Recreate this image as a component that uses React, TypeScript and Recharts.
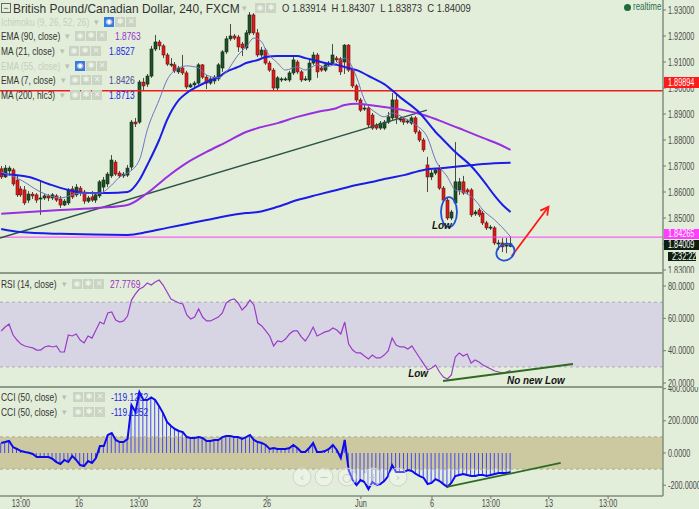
import React from "react";
import {
  Bar,
  ComposedChart,
  Line,
  ReferenceArea,
  ReferenceDot,
  ReferenceLine,
  XAxis,
  YAxis,
} from "recharts";

const FONT = '"Liberation Sans", Arial, sans-serif';
const BG = "#e2eed9";
const AXIS = "#7f8f7c";

// GBP/CAD 4h candles
const opens = [
  1.8689, 1.8658, 1.8681, 1.8685, 1.8646, 1.8612, 1.8608, 1.8569, 1.8592, 1.8589,
  1.8573, 1.8577, 1.8585, 1.8577, 1.8585, 1.8573, 1.855, 1.8558, 1.8612, 1.8589,
  1.8615, 1.86, 1.8565, 1.8581, 1.8569, 1.8585, 1.8619, 1.8631, 1.8662, 1.8715,
  1.8673, 1.8662, 1.8665, 1.8696, 1.8869, 1.8869, 1.9023, 1.9015, 1.9046, 1.915,
  1.9177, 1.9162, 1.9127, 1.9089, 1.9089, 1.9062, 1.9077, 1.9058, 1.9004, 1.9012,
  1.9019, 1.9089, 1.9042, 1.9019, 1.9027, 1.9035, 1.9077, 1.9139, 1.9189, 1.92,
  1.9196, 1.9169, 1.9154, 1.9212, 1.9281, 1.9212, 1.9127, 1.9146, 1.9096, 1.9069,
  1.9, 1.9031, 1.9031, 1.9031, 1.9058, 1.91, 1.9062, 1.9031, 1.9031, 1.9096,
  1.9127, 1.9077, 1.9069, 1.9089, 1.9096, 1.9115, 1.9112, 1.91, 1.9165, 1.9069,
  1.9008, 1.8954, 1.8919, 1.8923, 1.8896, 1.8858, 1.8846, 1.8846, 1.8869, 1.8885,
  1.8954, 1.8877, 1.8881, 1.8869, 1.8865, 1.8885, 1.8831, 1.88, 1.8704, 1.8658,
  1.8673, 1.8689, 1.8615, 1.8569, 1.85, 1.8558, 1.8608, 1.8639, 1.8608, 1.8608,
  1.8516, 1.8531, 1.8519, 1.8481, 1.8462, 1.8462, 1.84, 1.8404, 1.8392, 1.83914,
];
const highs = [
  1.87, 1.8704, 1.87, 1.8692, 1.8662, 1.8623, 1.8623, 1.8604, 1.86, 1.8596,
  1.8642, 1.8592, 1.8592, 1.8596, 1.8592, 1.8585, 1.8573, 1.8615, 1.8623, 1.8631,
  1.8623, 1.8608, 1.8585, 1.8604, 1.8596, 1.8646, 1.8658, 1.8677, 1.8742, 1.8723,
  1.8681, 1.8677, 1.8704, 1.8877, 1.8885, 1.9031, 1.9039, 1.9054, 1.9162, 1.9204,
  1.9185, 1.9169, 1.9135, 1.9115, 1.91, 1.9085, 1.9127, 1.9066, 1.9019, 1.9027,
  1.9096, 1.9092, 1.905, 1.9042, 1.905, 1.9096, 1.9146, 1.92, 1.9246, 1.9208,
  1.9204, 1.9177, 1.9223, 1.9292, 1.9288, 1.9227, 1.9158, 1.9154, 1.9104, 1.9077,
  1.9046, 1.9042, 1.9042, 1.9066, 1.9127, 1.9108, 1.9069, 1.9046, 1.9108, 1.9139,
  1.9135, 1.9085, 1.9096, 1.9104, 1.9169, 1.9123, 1.9119, 1.9169, 1.9169, 1.9077,
  1.9015, 1.8962, 1.8939, 1.8931, 1.8904, 1.8865, 1.8873, 1.8877, 1.8908, 1.8981,
  1.8973, 1.8889, 1.8889, 1.8881, 1.8892, 1.8892, 1.8839, 1.8808, 1.8735, 1.8685,
  1.8692, 1.8704, 1.8623, 1.8577, 1.8531, 1.8792, 1.8654, 1.8662, 1.8615, 1.8615,
  1.8531, 1.8539, 1.8527, 1.8489, 1.8473, 1.8469, 1.8416, 1.8423, 1.8423, 1.84307,
];
const lows = [
  1.865, 1.8654, 1.8662, 1.8623, 1.8581, 1.8581, 1.855, 1.8558, 1.8573, 1.8558,
  1.8512, 1.8569, 1.8565, 1.8569, 1.8562, 1.8539, 1.8546, 1.855, 1.8573, 1.8581,
  1.8585, 1.8554, 1.8558, 1.8562, 1.8558, 1.8577, 1.86, 1.8619, 1.8654, 1.8662,
  1.8654, 1.8654, 1.8658, 1.8685, 1.885, 1.8862, 1.8992, 1.9004, 1.9039, 1.9142,
  1.9146, 1.9115, 1.9085, 1.9081, 1.9058, 1.9054, 1.905, 1.8996, 1.9, 1.9004,
  1.9012, 1.9035, 1.8996, 1.9012, 1.9015, 1.9027, 1.9062, 1.9131, 1.9181, 1.9185,
  1.9139, 1.9123, 1.9146, 1.9204, 1.9204, 1.9119, 1.9119, 1.9089, 1.9062, 1.8992,
  1.8992, 1.9023, 1.9027, 1.9023, 1.905, 1.9054, 1.9023, 1.9027, 1.9023, 1.9089,
  1.9039, 1.9062, 1.9062, 1.9081, 1.9089, 1.91, 1.905, 1.9054, 1.9062, 1.9,
  1.8946, 1.8908, 1.8912, 1.885, 1.8839, 1.8839, 1.8839, 1.8839, 1.8862, 1.8877,
  1.8862, 1.8869, 1.8858, 1.8862, 1.8858, 1.8823, 1.8792, 1.8754, 1.86, 1.8646,
  1.8665, 1.8608, 1.8562, 1.8492, 1.8492, 1.855, 1.8589, 1.8589, 1.8592, 1.8504,
  1.8508, 1.8504, 1.8473, 1.8454, 1.8454, 1.8396, 1.8377, 1.8369, 1.8365, 1.83873,
];
const closes = [
  1.8658, 1.8692, 1.8692, 1.8631, 1.8589, 1.8589, 1.8558, 1.8592, 1.8585, 1.8569,
  1.8577, 1.8585, 1.8577, 1.8589, 1.8569, 1.855, 1.8565, 1.8608, 1.8581, 1.8619,
  1.8596, 1.8565, 1.8577, 1.8569, 1.8589, 1.8639, 1.8646, 1.8669, 1.8723, 1.8669,
  1.8662, 1.8669, 1.8692, 1.8869, 1.8862, 1.9023, 1.9008, 1.9046, 1.915, 1.9177,
  1.9162, 1.9127, 1.9092, 1.9092, 1.9066, 1.9077, 1.9058, 1.9004, 1.9012, 1.9019,
  1.9089, 1.9042, 1.9019, 1.9035, 1.9042, 1.9089, 1.9139, 1.9189, 1.92, 1.9192,
  1.9158, 1.9154, 1.9212, 1.9281, 1.9212, 1.9127, 1.9146, 1.9096, 1.9069, 1.9,
  1.9039, 1.9035, 1.9035, 1.9058, 1.9108, 1.9062, 1.9031, 1.9035, 1.9096, 1.9127,
  1.9062, 1.9069, 1.9089, 1.9096, 1.9127, 1.9108, 1.9062, 1.9165, 1.9069, 1.9008,
  1.8954, 1.8915, 1.8923, 1.8858, 1.8846, 1.8846, 1.8865, 1.8869, 1.8889, 1.8954,
  1.8885, 1.8881, 1.8869, 1.8873, 1.8885, 1.8831, 1.88, 1.8762, 1.8658, 1.8673,
  1.8685, 1.8615, 1.8569, 1.85, 1.8523, 1.8639, 1.8639, 1.8596, 1.86, 1.8512,
  1.8523, 1.8512, 1.8481, 1.8462, 1.8465, 1.8404, 1.8404, 1.8389, 1.8396, 1.84009,
];

// moving averages, sampled where they could be read: [candle index, price]
const ma21Pts = [
  [0, 1.8669], [7, 1.8658], [12, 1.8631], [17, 1.8608], [22, 1.8596], [27, 1.8596],
  [32, 1.86], [35, 1.8646], [37, 1.8704], [40, 1.88], [42, 1.8877], [45, 1.8954],
  [47, 1.8981], [50, 1.9008], [52, 1.9023], [55, 1.9042], [57, 1.9062], [60, 1.9081],
  [62, 1.9096], [65, 1.9108], [67, 1.9119], [70, 1.9123], [75, 1.9123], [77, 1.9115],
  [80, 1.9104], [82, 1.9096], [85, 1.9089], [87, 1.9081], [90, 1.9069], [94, 1.9039],
  [97, 1.9015], [101, 1.8965], [106, 1.8904], [110, 1.8831], [112, 1.88], [115, 1.8754],
  [119, 1.87], [122, 1.8646], [125, 1.8585], [127, 1.855], [129, 1.8523],
];
const ma200Pts = [
  [0, 1.8458], [5, 1.8446], [15, 1.8439], [32, 1.8435], [37, 1.8446], [42, 1.8462],
  [47, 1.8477], [52, 1.8492], [57, 1.8508], [62, 1.8519], [65, 1.8523], [70, 1.8543],
  [75, 1.8569], [80, 1.8589], [85, 1.8608], [90, 1.8627], [95, 1.8642], [97, 1.865],
  [102, 1.8665], [107, 1.8685], [112, 1.8692], [117, 1.87], [122, 1.8708], [129, 1.8713],
];
const ema90Pts = [
  [0, 1.8516], [15, 1.8531], [25, 1.8539], [32, 1.855], [37, 1.8596], [42, 1.8658],
  [47, 1.8712], [52, 1.8754], [57, 1.8792], [62, 1.8831], [65, 1.8846], [70, 1.8865],
  [75, 1.8889], [80, 1.8908], [85, 1.8923], [87, 1.8935], [90, 1.8939], [93, 1.8935],
  [97, 1.8927], [102, 1.8915], [107, 1.8896], [112, 1.8869], [117, 1.8839], [122, 1.8808],
  [127, 1.8777], [129, 1.8762],
];
const ema7Pts = [
  [0, 1.8677], [5, 1.8646], [10, 1.86], [15, 1.8577], [20, 1.8596], [25, 1.8596],
  [28, 1.8627], [30, 1.8658], [32, 1.8673], [35, 1.8723], [37, 1.8839], [40, 1.8954],
  [42, 1.9031], [45, 1.9077], [47, 1.9085], [50, 1.9077], [52, 1.905], [55, 1.9039],
  [57, 1.9062], [60, 1.9127], [62, 1.9158], [64, 1.9192], [66, 1.9177], [67, 1.9146],
  [70, 1.9096], [72, 1.9069], [75, 1.9081], [77, 1.9069], [80, 1.9089], [82, 1.9081],
  [85, 1.9096], [87, 1.9115], [90, 1.9042], [92, 1.8954], [95, 1.8904], [97, 1.8889],
  [99, 1.8904], [102, 1.8885], [105, 1.8858], [108, 1.8808], [110, 1.8723], [113, 1.8658],
  [115, 1.8608], [117, 1.86], [120, 1.8569], [122, 1.8531], [125, 1.8492], [127, 1.8462],
  [129, 1.8428],
];

const rsi = [
  52.2, 54.6, 56.5, 49.7, 46.6, 44.1, 42.9, 42.3, 41.7, 40.4,
  40.4, 42.3, 42.9, 42.3, 42.9, 39.2, 39.2, 49.7, 49.1, 50.3,
  46.6, 44.8, 49.1, 47.8, 52.8, 57.7, 56.5, 63.3, 63.9, 59.0,
  57.7, 58.4, 61.4, 71.3, 75.1, 78.1, 79.4, 81.9, 80.6, 82.5,
  83.7, 80.6, 76.3, 72.0, 70.7, 69.5, 68.9, 62.1, 59.6, 60.8,
  65.8, 60.8, 58.4, 58.4, 59.6, 60.8, 63.3, 69.5, 71.3, 72.0,
  69.5, 65.2, 67.6, 71.3, 68.3, 57.1, 55.3, 52.2, 49.1, 42.9,
  46.0, 45.4, 47.2, 50.3, 52.2, 52.2, 48.5, 46.0, 49.7, 54.6,
  49.1, 50.3, 51.6, 52.2, 54.0, 52.8, 50.3, 57.7, 44.1, 40.4,
  38.6, 38.6, 36.7, 34.9, 37.3, 35.5, 35.5, 37.3, 39.8, 47.8,
  43.5, 42.3, 42.3, 41.0, 42.9, 39.2, 35.5, 31.8, 28.1, 29.3,
  31.1, 26.8, 23.7, 22.5, 25.0, 36.1, 38.6, 36.7, 37.9, 32.4,
  34.2, 33.0, 31.1, 29.9, 28.7, 27.4, 26.8, 26.2, 26.8, 27.78,
];
const cci = [
  62, 68, 75, 37, 25, 12, 6, 2, -6, -25,
  -25, -25, -25, -37, -56, -68, -43, -56, -19, -43,
  -75, -81, -50, -62, -31, 43, 43, 112, 124, 81,
  68, 68, 87, 298, 255, 379, 329, 329, 345, 330,
  290, 248, 193, 168, 149, 137, 130, 99, 93, 93,
  99, 93, 75, 75, 81, 81, 99, 106, 106, 99,
  99, 87, 99, 112, 81, 68, 62, 50, 25, 31,
  25, 25, 25, 31, 50, 31, 6, 6, 31, 62,
  6, 6, 12, 25, 50, 19, -31, 81, -106, -168,
  -199, -168, -180, -224, -180, -199, -193, -174, -143, -75,
  -118, -118, -118, -106, -112, -130, -143, -155, -193, -186,
  -162, -174, -193, -211, -186, -143, -137, -130, -137, -143,
  -143, -137, -137, -143, -137, -130, -124, -124, -124, -119.13,
];

const xTicks = [5, 19.7, 34.9, 49.6, 67.3, 91.1, 109.1, 124, 138.7, 153.7];
const xLabels = ["13:00", "16", "13:00", "23", "26", "Jun", "6", "13:00", "13", "13:00"];
const priceTicks = [1.83, 1.84, 1.85, 1.86, 1.87, 1.88, 1.89, 1.9, 1.91, 1.92, 1.93];
const rsiTicks = [20, 40, 60, 80];
const cciTicks = [-200, 0, 200, 400];

const SLOTS = 168;
const X_DOMAIN: [number, number] = [-0.3, 167.6];

const rows: any[] = Array.from({ length: SLOTS }, (_, i) => {
  if (i >= closes.length) return { i };
  return {
    i,
    open: opens[i],
    high: highs[i],
    low: lows[i],
    close: closes[i],
    range: [lows[i], highs[i]],
    rsi: rsi[i],
    cci: cci[i],
  };
});
const put = (pts: number[][], key: string) => pts.forEach(([i, v]) => (rows[i][key] = v));
put(ma21Pts, "ma21");
put(ma200Pts, "ma200");
put(ema90Pts, "ema90");
put(ema7Pts, "ema7");

// the screenshot is squeezed sideways, so texts are narrowed to match
const SQUEEZE = 0.73;

const rightTick = (digits: number) => (p: any) => (
  <text
    transform={`translate(${p.x},${p.y}) scale(${SQUEEZE},1)`}
    dy="0.35em"
    fontSize={10}
    fill="#4a4a4a"
    fontFamily={FONT}
  >
    {Number(p.payload.value).toFixed(digits)}
  </text>
);

const bottomTick = (p: any) => (
  <text
    transform={`translate(${p.x},${p.y}) scale(${SQUEEZE},1)`}
    dy="0.71em"
    textAnchor="middle"
    fontSize={10}
    fill="#4a4a4a"
    fontFamily={FONT}
  >
    {xLabels[xTicks.indexOf(p.payload.value)] ?? ""}
  </text>
);

function Candle(props: any) {
  const { x, y, width, height, payload } = props;
  if (!payload || payload.open == null) return null;
  const top = Math.min(y, y + height);
  const bottom = Math.max(y, y + height);
  const span = payload.high - payload.low;
  const py = (p: number) => top + ((payload.high - p) / span) * (bottom - top);
  const cx = Math.round(x + width / 2) + 0.5;
  const up = payload.close >= payload.open;
  const bTop = py(Math.max(payload.open, payload.close));
  const bBot = py(Math.min(payload.open, payload.close));
  return (
    <g>
      <line x1={cx} x2={cx} y1={top} y2={bottom} stroke="#4a4a4a" strokeWidth={1} />
      <rect
        x={cx - 1.5}
        y={bTop}
        width={3}
        height={Math.max(1, bBot - bTop)}
        fill={up ? "#1e5128" : "#d61c1c"}
        stroke={up ? "#0d2a12" : "#7a1010"}
        strokeWidth={0.6}
      />
    </g>
  );
}

function Arrow(p: any) {
  const { x1, y1, x2, y2 } = p;
  if (x1 == null) return null;
  const a = Math.atan2(y2 - y1, x2 - x1);
  const L = 9;
  const h1 = `${x2 - L * Math.cos(a - 0.5)},${y2 - L * Math.sin(a - 0.5)}`;
  const h2 = `${x2 - L * Math.cos(a + 0.5)},${y2 - L * Math.sin(a + 0.5)}`;
  return (
    <g stroke="#ff1a1a" strokeWidth={1.8} fill="none">
      <line x1={x1} y1={y1} x2={x2} y2={y2} />
      <polyline points={`${h1} ${x2},${y2} ${h2}`} />
    </g>
  );
}

const noteText = (label: string) => (p: any) => (
  <text
    transform={`translate(${p.cx},${p.cy}) scale(0.9,1)`}
    textAnchor="middle"
    dominantBaseline="central"
    fontFamily={FONT}
    fontSize={11}
    fontWeight="bold"
    fontStyle="italic"
    fill="#151515"
  >
    {label}
  </text>
);

const ellipse = (rx: number, ry: number, rot: number) => (p: any) => (
  <ellipse
    cx={p.cx}
    cy={p.cy}
    rx={rx}
    ry={ry}
    transform={`rotate(${rot} ${p.cx} ${p.cy})`}
    fill="none"
    stroke="#1f4fd8"
    strokeWidth={1.8}
  />
);

function yAxisProps(domain: [number, number], ticks: number[], digits: number) {
  return {
    orientation: "right" as const,
    width: 36,
    domain,
    ticks,
    interval: 0 as const,
    allowDataOverflow: true,
    tick: rightTick(digits),
    tickSize: 3,
    tickMargin: 2,
    axisLine: { stroke: AXIS, strokeWidth: 1.5 },
    tickLine: { stroke: "#777" },
  };
}

// narrowed html text
function Sq({ children, k = 0.8, style }: any) {
  return (
    <span
      style={{
        display: "inline-block",
        transform: `scaleX(${k})`,
        transformOrigin: "0 50%",
        whiteSpace: "nowrap",
        ...style,
      }}
    >
      {children}
    </span>
  );
}

function Icons({ x, blue, count = 3 }: { x: number; blue?: boolean; count?: number }) {
  const glyphs = ["◉", "✱", "✕"].slice(0, count);
  return (
    <>
      {glyphs.map((g, k) => (
        <div
          key={k}
          style={{
            position: "absolute",
            left: x + k * 11,
            top: -5,
            width: 10,
            height: 10,
            background: k === 0 && blue ? "#3b78e0" : "#c9d4c3",
            color: k === 0 && blue ? "#fff" : "#eef3ea",
            fontSize: 8,
            lineHeight: "10px",
            textAlign: "center",
            fontFamily: "DejaVu Sans",
          }}
        >
          {g}
        </div>
      ))}
    </>
  );
}

function LegendRow(props: {
  top: number;
  label: string;
  caret: number;
  icons: number;
  value?: string;
  valueX?: number;
  color?: string;
  faded?: boolean;
}) {
  const { top, label, caret, icons, value, valueX, color, faded } = props;
  return (
    <div style={{ position: "absolute", left: 0, top, height: 0 }}>
      <div style={{ position: "absolute", left: 1, top: -7, fontSize: 10.5, lineHeight: "14px", color: faded ? "#c4cec0" : "#333" }}>
        <Sq>{label}</Sq>
      </div>
      <span style={{ position: "absolute", left: caret, top: -7, fontSize: 9, lineHeight: "14px", color: "#b8c2b4" }}>
        ▾
      </span>
      <Icons x={icons} blue={faded} />
      {value && (
        <div style={{ position: "absolute", left: valueX, top: -7, fontSize: 10.5, lineHeight: "14px", color }}>
          <Sq>{value}</Sq>
        </div>
      )}
    </div>
  );
}

function PriceTag({ top, text, bg, left = 664, width = 35, height = 10 }: any) {
  return (
    <div
      style={{
        position: "absolute",
        left,
        top,
        width,
        height,
        background: bg,
        color: "#fff",
        fontSize: 10,
        lineHeight: `${height}px`,
        paddingLeft: 4,
        boxSizing: "border-box",
        overflow: "hidden",
      }}
    >
      <Sq k={SQUEEZE}>{text}</Sq>
    </div>
  );
}

export default function App() {
  return (
    <div
      style={{
        position: "absolute",
        left: 0,
        top: 0,
        width: 699,
        height: 509,
        background: BG,
        fontFamily: FONT,
        overflow: "hidden",
      }}
    >
      {/* price panel */}
      <div style={{ position: "absolute", left: 0, top: 0 }}>
        <ComposedChart width={699} height={273} data={rows} margin={{ top: 0, right: 0, bottom: 0, left: 0 }}>
          <XAxis type="number" dataKey="i" domain={X_DOMAIN} hide allowDataOverflow />
          <YAxis {...yAxisProps([1.82885, 1.93385], priceTicks, 5)} />
          <ReferenceLine y={1.89894} stroke="#ee1b1b" strokeWidth={1.6} />
          <ReferenceLine y={1.84265} stroke="#ff3dff" strokeWidth={1} />
          <ReferenceLine
            segment={[
              { x: -0.3, y: 1.8423 },
              { x: 107.8, y: 1.8915 },
            ]}
            stroke="#2b5446"
            strokeWidth={1.5}
            ifOverflow="visible"
          />
          <Line type="monotone" dataKey="ma200" stroke="#1c1ce8" strokeWidth={2} dot={false} connectNulls isAnimationActive={false} />
          <Line type="monotone" dataKey="ema90" stroke="#9a2fe0" strokeWidth={2} dot={false} connectNulls isAnimationActive={false} />
          <Line type="monotone" dataKey="ma21" stroke="#1c1ce8" strokeWidth={2} dot={false} connectNulls isAnimationActive={false} />
          <Bar dataKey="range" barSize={3} shape={Candle} isAnimationActive={false} />
          <Line type="monotone" dataKey="ema7" stroke="#7272c4" strokeWidth={1} dot={false} connectNulls isAnimationActive={false} />
          <ReferenceDot x={113.4} y={1.8523} r={1} shape={ellipse(8, 15, 0)} ifOverflow="visible" />
          <ReferenceDot x={127.7} y={1.8369} r={1} shape={ellipse(9.5, 8, -35)} ifOverflow="visible" />
          <ReferenceDot x={111.6} y={1.8473} r={1} shape={noteText("Low")} ifOverflow="visible" />
          <ReferenceLine
            segment={[
              { x: 129.3, y: 1.8354 },
              { x: 138.6, y: 1.8543 },
            ]}
            shape={Arrow}
            stroke="#ff1a1a"
            ifOverflow="visible"
          />
        </ComposedChart>
      </div>

      {/* RSI panel */}
      <div style={{ position: "absolute", left: 0, top: 273 }}>
        <ComposedChart width={699} height={114} data={rows} margin={{ top: 0, right: 0, bottom: 0, left: 0 }}>
          <XAxis type="number" dataKey="i" domain={X_DOMAIN} hide allowDataOverflow />
          <YAxis {...yAxisProps([17.54, 88.04], rsiTicks, 4)} />
          <ReferenceArea y1={30} y2={70} fill="#d7d4e4" fillOpacity={1} stroke="none" />
          <ReferenceLine y={70} stroke="#a8a6ba" strokeDasharray="3 3" />
          <ReferenceLine y={30} stroke="#a8a6ba" strokeDasharray="3 3" />
          <Line type="linear" dataKey="rsi" stroke="#9b3cc6" strokeWidth={1.2} dot={false} isAnimationActive={false} />
          <ReferenceLine
            segment={[
              { x: 111.9, y: 21.25 },
              { x: 144.8, y: 31.76 },
            ]}
            stroke="#2e6b1f"
            strokeWidth={1.8}
            ifOverflow="visible"
          />
          <ReferenceDot x={105.6} y={26.2} r={1} shape={noteText("Low")} ifOverflow="visible" />
          <ReferenceDot x={135.4} y={21.9} r={1} shape={noteText("No new Low")} ifOverflow="visible" />
        </ComposedChart>
      </div>

      {/* CCI panel */}
      <div style={{ position: "absolute", left: 0, top: 387 }}>
        <ComposedChart width={699} height={122} data={rows} margin={{ top: 0, right: 0, bottom: 0, left: 0 }}>
          <XAxis
            type="number"
            dataKey="i"
            domain={X_DOMAIN}
            ticks={xTicks}
            interval={0}
            allowDataOverflow
            height={13}
            tickSize={3}
            tickMargin={1}
            tick={bottomTick}
            axisLine={{ stroke: AXIS, strokeWidth: 1.5 }}
            tickLine={{ stroke: "#777" }}
          />
          <YAxis {...yAxisProps([-267, 410], cciTicks, 4)} />
          <ReferenceArea y1={-100} y2={100} fill="#ccc9a0" fillOpacity={1} stroke="none" />
          <ReferenceLine y={100} stroke="#a9a88e" strokeDasharray="3 3" />
          <ReferenceLine y={-100} stroke="#a9a88e" strokeDasharray="3 3" />
          <Bar dataKey="cci" barSize={1} fill="#4646f0" isAnimationActive={false} />
          <Line type="linear" dataKey="cci" stroke="#0b0bee" strokeWidth={2} dot={false} isAnimationActive={false} />
          <ReferenceLine
            segment={[
              { x: 112.9, y: -211 },
              { x: 141.7, y: -62 },
            ]}
            stroke="#2e6b1f"
            strokeWidth={1.8}
            ifOverflow="visible"
          />
        </ComposedChart>
      </div>

      {/* panel separators */}
      <div style={{ position: "absolute", left: 0, top: 272, width: 663, height: 2, background: "#8d9c8a" }} />
      <div style={{ position: "absolute", left: 0, top: 386, width: 663, height: 2, background: "#8d9c8a" }} />

      {/* chart navigation buttons */}
      <svg style={{ position: "absolute", left: 0, top: 0 }} width={699} height={509}>
        {[
          [302, "‹"],
          [324, "−"],
          [347, "○"],
          [373, "+"],
          [398, "›"],
        ].map(([cx, g]) => (
          <g key={cx as number}>
            <circle cx={cx as number} cy={477} r={9} fill="rgba(255,255,255,0.3)" stroke="#cfd3ce" />
            <text x={cx as number} y={481} textAnchor="middle" fontSize={11} fill="#c4c8c3" fontFamily="DejaVu Sans">
              {g}
            </text>
          </g>
        ))}
      </svg>

      {/* header */}
      <div
        style={{
          position: "absolute",
          left: 1,
          top: 3,
          width: 8,
          height: 8,
          border: "1px solid #666",
          fontSize: 9,
          lineHeight: "8px",
          textAlign: "center",
          color: "#444",
        }}
      >
        −
      </div>
      <div style={{ position: "absolute", left: 13, top: 1, fontSize: 13, lineHeight: "15px", color: "#333" }}>
        <Sq k={0.92}>British Pound/Canadian Dollar, 240, FXCM</Sq>
      </div>
      <div style={{ position: "absolute", left: 0, top: 8 }}>
        <span style={{ position: "absolute", left: 242, top: -7, fontSize: 9, lineHeight: "14px", color: "#b8c2b4" }}>▾</span>
        <Icons x={255} count={2} />
      </div>
      <div style={{ position: "absolute", left: 282, top: 2, fontSize: 10.5, lineHeight: "13px", color: "#333" }}>
        <Sq k={0.9}>O 1.83914 &nbsp;H 1.84307 &nbsp;L 1.83873 &nbsp;C 1.84009</Sq>
      </div>
      <div style={{ position: "absolute", left: 624, top: 4, width: 7, height: 7, borderRadius: 4, background: "#1f6b3e" }} />
      <div style={{ position: "absolute", left: 633, top: 1, fontSize: 10, lineHeight: "12px", color: "#2e6e52" }}>
        <Sq k={0.8}>realtime</Sq>
      </div>

      <LegendRow top={22} label="Ichimoku (9, 26, 52, 26)" caret={94} icons={104} faded />
      <LegendRow top={36} label="EMA (90, close)" caret={65} icons={75} value="1.8763" valueX={115} color="#9a2fd0" />
      <LegendRow top={51} label="MA (21, close)" caret={60} icons={69} value="1.8527" valueX={109} color="#2222e6" />
      <LegendRow top={66} label="EMA (55, close)" caret={65} icons={75} faded />
      <LegendRow top={80} label="EMA (7, close)" caret={61} icons={70} value="1.8426" valueX={109} color="#474791" />
      <LegendRow top={95} label="MA (200, hlc3)" caret={60} icons={70} value="1.8713" valueX={109} color="#2222e6" />

      <LegendRow top={284} label="RSI (14, close)" caret={62} icons={72} value="27.7769" valueX={110} color="#9a2fc0" />
      <LegendRow top={397} label="CCI (50, close)" caret={62} icons={73} value="-119.1262" valueX={111} color="#2424e6" />
      <LegendRow top={412} label="CCI (50, close)" caret={62} icons={73} value="-119.1252" valueX={111} color="#2424e6" />

      {/* axis price tags */}
      <PriceTag top={77} height={11} text="1.89894" bg="#ff1a1a" />
      <PriceTag top={229} text="1.84265" bg="#ff3cff" />
      <PriceTag top={240} text="1.84009" bg="#0e1f10" />
      <PriceTag top={252} left={668} width={28} height={9} text="2:32:22" bg="#0e1f10" />
    </div>
  );
}
